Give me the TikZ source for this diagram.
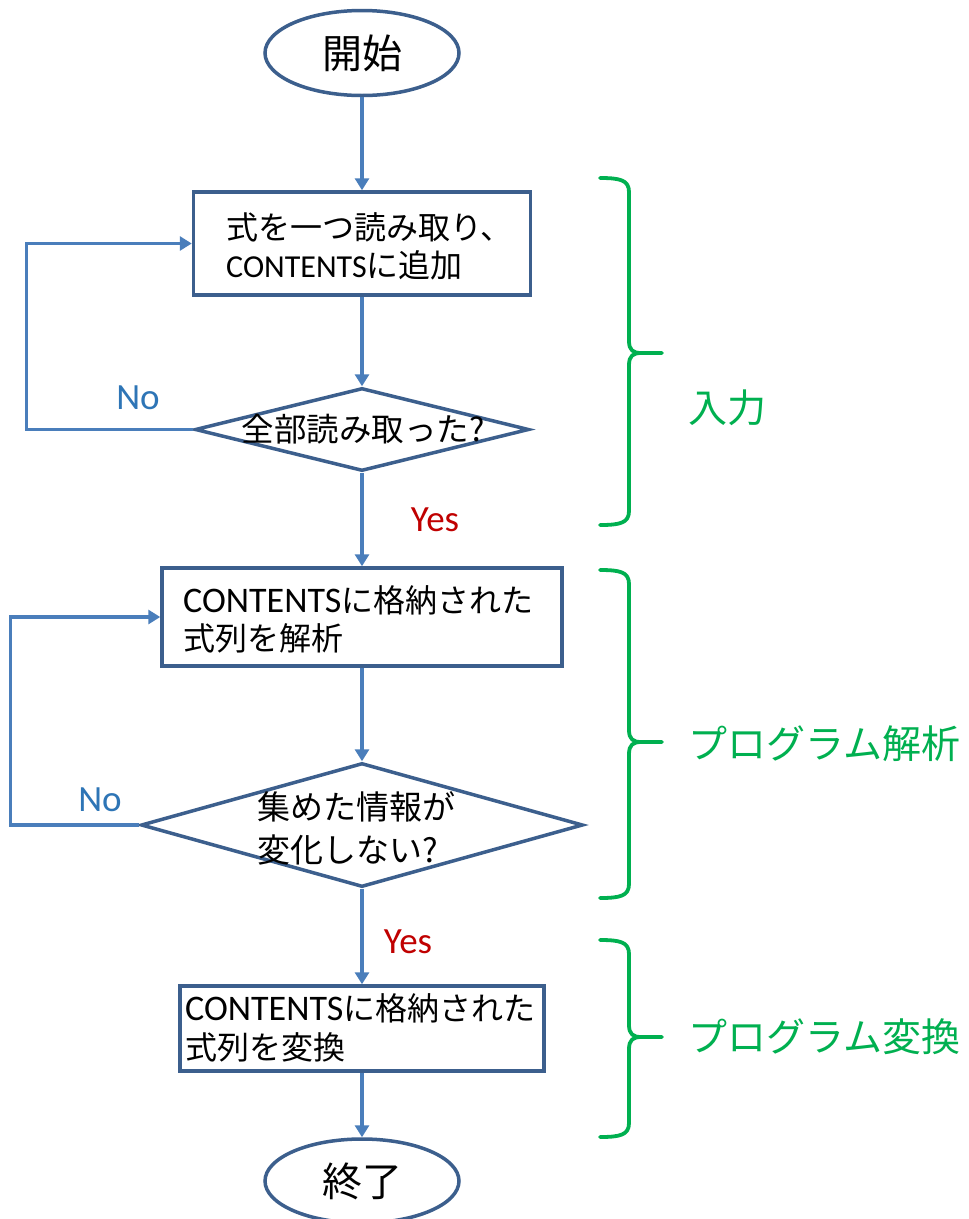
\documentclass[tikz,border=0pt]{standalone}
\usepackage{fontspec}
\setmainfont{Carlito}
\newfontfamily\jp{Noto Sans CJK JP}
\usetikzlibrary{shapes.geometric,arrows.meta}
\definecolor{flow}{HTML}{4A7EBB}
\definecolor{edgec}{HTML}{3C5F8D}
\definecolor{grn}{HTML}{00B050}
\definecolor{nob}{HTML}{2E75B6}
\definecolor{yesr}{HTML}{C00000}
\newcommand\grbrace[3]{%
  \draw[brk] (600,#1) .. controls (620,#1) and (629,#1+2) .. (629,#1+14)
    -- (629,#2-12) .. controls (629,#2-3) and (633,#2) .. (641,#2) -- (662,#2);
  \draw[brk] (641,#2) .. controls (633,#2) and (629,#2+3) .. (629,#2+12)
    -- (629,#3-14) .. controls (629,#3-2) and (620,#3) .. (600,#3);
}
\newcommand\bigLat[1]{{\fontsize{36}{38}\selectfont #1}}
\begin{document}
\begin{tikzpicture}[x=1pt,y=-1pt,
  term/.style={ellipse, draw=edgec, line width=3.5pt, minimum width=194pt, minimum height=85pt, inner sep=0pt, font=\jp\fontsize{40}{44}\selectfont},
  procbox/.style={rectangle, draw=edgec, line width=3.5pt, inner sep=0pt},
  decide/.style={diamond, draw=edgec, line width=3.5pt, inner sep=0pt},
  conn/.style={draw=flow, line width=3.5pt, -{Triangle[length=12pt,width=14pt]}},
  txt/.style={inner sep=0pt, text=black, font=\fontsize{32}{38}\selectfont, align=left, anchor=west},
  nolab/.style={inner sep=0pt, text=nob, font=\fontsize{37}{40}\selectfont},
  yeslab/.style={inner sep=0pt, text=yesr, font=\fontsize{37}{40}\selectfont},
  grnlab/.style={inner sep=0pt, text=grn, font=\jp\fontsize{39}{42}\selectfont, anchor=west},
  brk/.style={draw=grn, line width=3.8pt, line cap=round, line join=round}
]
\useasboundingbox[fill=white] (0,0) rectangle (969,1219);

% shapes
\node[term] (start) at (362,53) {開始};
\node[procbox, minimum width=337pt, minimum height=103pt] (b1) at (362,243.5) {};
\node[decide, minimum width=334pt, minimum height=83pt] (d1) at (362,429.5) {};
\node[procbox, minimum width=400pt, minimum height=98pt] (b2) at (362,617) {};
\node[decide, minimum width=442pt, minimum height=124pt] (d2) at (362,825) {};
\node[procbox, minimum width=364pt, minimum height=85pt] (b3) at (362,1028.5) {};
\node[term, minimum height=84pt] (fin) at (362,1181) {終了};

% texts
\node[txt] (t1) at (226,246) {{\jp 式を一つ読み取り、}\\CONTENTS{\jp に追加}};
\node[txt, anchor=center, font=\fontsize{32.5}{38}\selectfont] (t2) at (363,429.5) {{\jp 全部読み取った?}};
\node[txt, font=\fontsize{32}{38}\selectfont] (t3) at (183,619) {\bigLat{CONTENTS}{\jp に格納された}\\{\jp 式列を解析}};
\node[txt, font=\fontsize{33}{43}\selectfont] (t4) at (257,828.5) {{\jp 集めた情報が}\\{\jp 変化しない?}};
\node[txt, font=\fontsize{32}{39}\selectfont] (t5) at (185,1027.5) {\bigLat{CONTENTS}{\jp に格納された}\\{\jp 式列を変換}};

% connectors
\draw[conn] (start.south) -- (b1.north);
\draw[conn] (b1.south) -- (d1.north);
\draw[conn] (d1.south) -- (b2.north);
\draw[conn] (b2.south) -- (d2.north);
\draw[conn] (d2.south) -- (b3.north);
\draw[conn] (b3.south) -- (fin.north);
\draw[conn] (d1.west) -- ++(-167,0) |- (b1.west);
\draw[conn] (d2.west) -- ++(-129,0) |- (b2.west);

% branch labels
\node[nolab] (no1) at (138,398) {No};
\node[nolab] (no2) at (100,800) {No};
\node[yeslab] (yes1) at (435,520) {Yes};
\node[yeslab] (yes2) at (408,942) {Yes};

% green braces and labels
\grbrace{178}{353}{525}
\grbrace{570}{742}{898}
\grbrace{940}{1037}{1137}
\node[grnlab] (g1) at (688,408) {入力};
\node[grnlab] (g2) at (688,744) {プログラム解析};
\node[grnlab] (g3) at (688,1037) {プログラム変換};
\end{tikzpicture}
\end{document}
